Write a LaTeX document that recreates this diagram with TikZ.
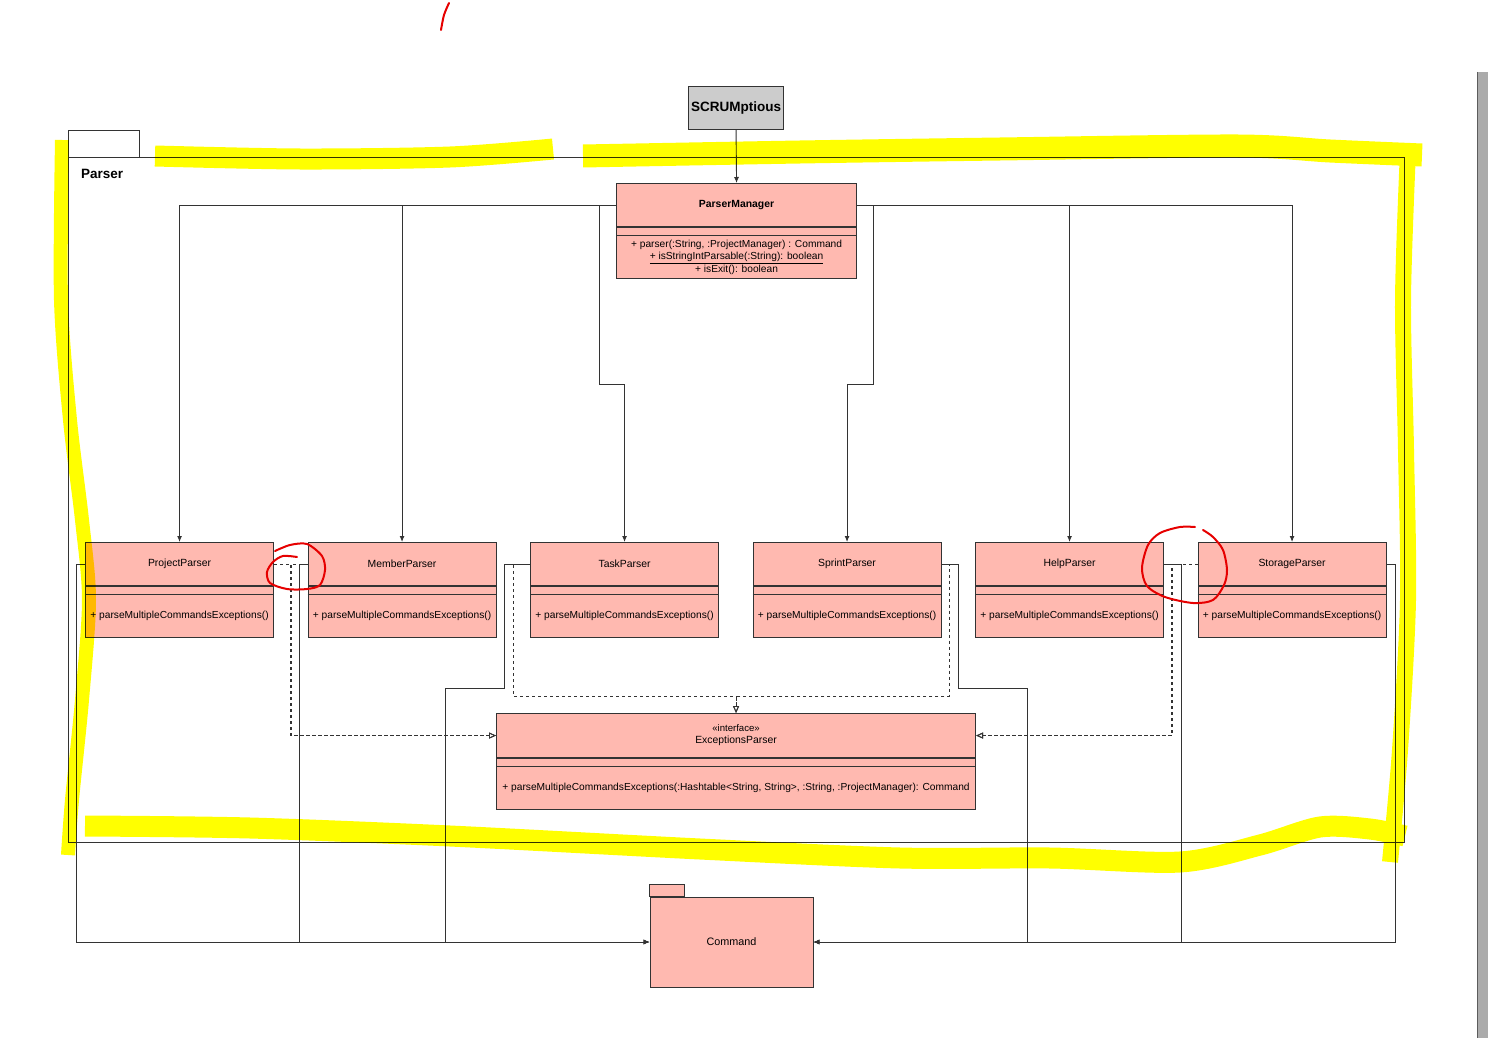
\documentclass[tikz,border=0pt]{standalone}
\usepackage{fontspec}
\setmainfont{Liberation Sans}
\usepackage{tikz}
\usetikzlibrary{arrows.meta,calc,positioning}
\definecolor{umlsalmon}{RGB}{255,185,176}
\definecolor{umlline}{RGB}{51,51,51}
\definecolor{umlgray}{RGB}{204,204,204}
\definecolor{hlyellow}{RGB}{255,255,0}
\definecolor{penred}{RGB}{230,0,0}
\definecolor{bargray}{RGB}{171,171,171}

\tikzset{
  clshead/.style={draw=umlline, fill=umlsalmon, line width=1.1pt, minimum width=#1,
    minimum height=43pt, inner sep=0pt, font=\fontsize{10.4}{12}\selectfont},
  clsops/.style={draw=umlline, fill=umlsalmon, line width=1.1pt, minimum width=#1,
    minimum height=51pt, inner sep=0pt},
  optext/.style={font=\fontsize{10.2}{12.5}\selectfont, align=center, inner sep=0pt},
  assoc/.style={umlline, line width=0.9pt, -{Latex[length=6pt,width=5pt]}},
  realize/.style={umlline, line width=0.9pt, dash pattern=on 3pt off 3pt,
    -{Triangle[open,length=7pt,width=6pt]}},
  hilite/.style={hlyellow, line width=#1, line cap=butt, line join=round},
  pen/.style={penred, line width=2pt, line cap=round, line join=round},
}

\begin{document}
\begin{tikzpicture}[x=1pt, y=-1pt]
   \path[use as bounding box] (0,0) rectangle (1488,1038);

   % scroll bar at the right edge
   \fill[bargray] (1478,72) rectangle (1488,1038);
   \draw[umlline!80, line width=1pt] (1477.5,72) -- (1477.5,1038);

   % Parser package
   \draw[umlline, line width=1pt] (68,131) rectangle (139,157);
   \draw[umlline, line width=1pt] (68,157) rectangle (1404,842);
   \node[font=\bfseries\fontsize{13.5}{15}\selectfont, anchor=west, inner sep=0pt] (parserlbl) at (81,174) {Parser};

   \node[draw=umlline, fill=umlgray, line width=1.1pt, minimum width=95pt, minimum height=43pt,
      inner sep=0pt, font=\bfseries\fontsize{13.5}{15}\selectfont, anchor=north west] (scrum) at (688,86) {SCRUMptious};

   % ParserManager
   \node[clshead=240pt, anchor=north west, font=\bfseries\fontsize{10.4}{12}\selectfont] (pmgr) at (616,183) {ParserManager};
   \node[clsops=240pt, anchor=north] (pmgr-ops) at (pmgr.south) {};
   \draw[umlline, line width=1.1pt] ([yshift=-8pt]pmgr-ops.north west) -- ([yshift=-8pt]pmgr-ops.north east);
   \node[optext] at ([yshift=-4pt]pmgr-ops.center)
      {+ parser(:String, :ProjectManager) : Command\\\underline{+ isStringIntParsable(:String): boolean}\\+ isExit(): boolean};

   % the six parsers
   \foreach \n/\x/\lbl in {projparser/85/ProjectParser, membparser/307.5/MemberParser,
         taskparser/530/TaskParser, sprintparser/752.5/SprintParser,
         helpparser/975/HelpParser, storeparser/1197.5/StorageParser}{
      \node[clshead=188pt, anchor=north west] (\n) at (\x,542) {\lbl};
      \node[clsops=188pt, anchor=north] (\n-ops) at (\n.south) {};
      \draw[umlline, line width=1.1pt] ([yshift=-8pt]\n-ops.north west) -- ([yshift=-8pt]\n-ops.north east);
      \node[optext] at ([yshift=-4pt]\n-ops.center) {+ parseMultipleCommandsExceptions()};
   }

   % interface
   \node[clshead=479pt, minimum height=44pt, anchor=north west, align=center] (excparser) at (496,713)
      {{\fontsize{9.6}{11}\selectfont «interface»}\\ExceptionsParser};
   \node[clsops=479pt, anchor=north] (excparser-ops) at (excparser.south) {};
   \draw[umlline, line width=1.1pt] ([yshift=-8pt]excparser-ops.north west) -- ([yshift=-8pt]excparser-ops.north east);
   \node[optext] at ([yshift=-4pt]excparser-ops.center)
      {+ parseMultipleCommandsExceptions(:Hashtable<String, String>, :String, :ProjectManager): Command};

   % Command package
   \node[draw=umlline, fill=umlsalmon, line width=0.9pt, minimum width=163pt, minimum height=90pt,
      inner sep=0pt, font=\fontsize{10.8}{12}\selectfont] (command) at (731.5,942) {Command};
   \draw[umlline, fill=umlsalmon, line width=0.9pt] (command.north west) rectangle ++(35,-12);

   % connectors
   \draw[assoc] (scrum.south) -- (pmgr.north);
   \draw[assoc] (pmgr.west) -| (projparser.north);
   \draw[assoc] (pmgr.west) -| (membparser.north);
   \draw[assoc] (pmgr.west) -| (599,384) -| (taskparser.north);
   \draw[assoc] (pmgr.east) -| (873,384) -| (sprintparser.north);
   \draw[assoc] (pmgr.east) -| (helpparser.north);
   \draw[assoc] (pmgr.east) -| (storeparser.north);

   \draw[realize] (projparser.east) -- ++(17,0) |- (excparser.west);
   \draw[realize] (membparser.west) -- ++(-17,0) |- (excparser.west);
   \draw[realize] (taskparser.west) -| (513,696) -| (excparser.north);
   \draw[realize] (sprintparser.east) -| (949,696) -| (excparser.north);
   \draw[realize] (helpparser.east) -- ++(8,0) |- (excparser.east);
   \draw[realize] (storeparser.west) -- ++(-26,0) |- (excparser.east);

   \draw[assoc] (projparser.west) -- ++(-9,0) |- (command.west);
   \draw[assoc] (membparser.west) -- ++(-8,0) |- (command.west);
   \draw[assoc] (taskparser.west) -| (504,688) -| (445,942) -- (command.west);
   \draw[assoc] (sprintparser.east) -| (958,688) -| (1027,942) -- (command.east);
   \draw[assoc] (helpparser.east) -- ++(17,0) |- (command.east);
   \draw[assoc] (storeparser.east) -- ++(9,0) |- (command.east);

   % highlighter marks
   \begin{scope}[blend mode=multiply]
      \draw[hilite=21pt] plot[smooth] coordinates {(155,156) (300,159) (450,157) (553,149)};
      \draw[hilite=23pt] plot[smooth] coordinates {(583,156) (800,152) (1000,149) (1238,146) (1330,151) (1422,155)};
      \draw[hilite=16pt] plot[smooth] coordinates {(1408,150) (1403,300) (1406,450) (1408,600) (1400,750) (1390,862)};
      \draw[hilite=14pt] plot[smooth] coordinates {(62,140) (61,300) (70,420) (82,520) (89,600) (82,700) (72,800) (68,855)};
      \draw[hilite=21pt] plot[smooth] coordinates {(85,826) (250,828) (450,836) (700,849) (900,858)
         (1050,858) (1180,862) (1260,845) (1320,827) (1370,829) (1405,836)};
   \end{scope}

   % pen marks
   \draw[pen] plot[smooth] coordinates {(441,30) (444,15) (449,3)};
   \draw[pen] plot[smooth] coordinates {(275,551) (290,545) (307,544) (322,556) (325,570) (320,585)
      (307,589) (287,589) (270,583) (267,572) (273,562) (283,556) (297,557)};
   \draw[pen] plot[smooth] coordinates {(1195,527) (1180,527) (1160,533) (1148,545) (1142,568) (1147,586)
      (1165,597) (1193,603) (1213,600) (1224,585) (1227,570) (1223,550) (1213,537) (1203,530)};
\end{tikzpicture}
\end{document}
